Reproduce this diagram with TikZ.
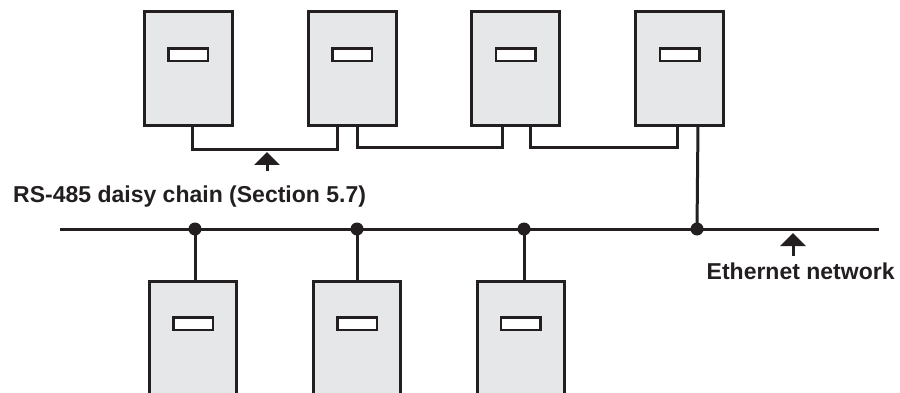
\documentclass[tikz,border=0pt]{standalone}
\usepackage{fontspec}
\setmainfont{Liberation Sans}
\usetikzlibrary{arrows.meta,calc}
\definecolor{ink}{HTML}{231F20}
\definecolor{boxfill}{HTML}{E6E7E8}
\begin{document}
\begin{tikzpicture}[x=1pt,y=-1pt,
  unit/.style={draw=ink,fill=boxfill,line width=3pt,minimum width=88pt,minimum height=114pt,inner sep=0pt,outer sep=0pt},
  slot/.style={draw=ink,fill=white,line width=2.5pt,minimum width=39.5pt,minimum height=12.5pt,inner sep=0pt,outer sep=0pt},
  wire/.style={draw=ink,line width=3pt},
  dot/.style={circle,fill=ink,minimum size=13pt,inner sep=0pt,outer sep=0pt},
  pointer/.style={draw=ink,line width=3pt,-{Triangle[width=25pt,length=13pt]}},
  lbl/.style={font=\bfseries\fontsize{23}{26}\selectfont,text=ink,inner sep=0pt,anchor=base west}]
\useasboundingbox (0,0) rectangle (900,393);
\clip (0,0) rectangle (900,393);
% top units
\node[unit] (b1) at (188,68.5) {};
\node[unit] (b2) at (352,68.5) {};
\node[unit] (b3) at (515.5,68.5) {};
\node[unit] (b4) at (679.5,68.5) {};
\foreach \i in {1,...,4} { \node[slot] (s\i) at ($(b\i.north)+(0,43.5)$) {}; }
% bottom units
\node[unit,minimum width=87pt] (c1) at (193,338.5) {};
\node[unit,minimum width=87pt] (c2) at (357,338.5) {};
\node[unit,minimum width=87pt] (c3) at (520.5,338.5) {};
\foreach \i in {1,...,3} { \node[slot] (t\i) at ($(c\i.north)+(0,42)$) {}; }
% daisy chain ports
\coordinate (p1) at (192,125.5);
\coordinate (p2a) at (337,125.5);
\coordinate (p2b) at (357,125.5);
\coordinate (p3a) at (502,125.5);
\coordinate (p3b) at (530,125.5);
\coordinate (p4a) at (677,125.5);
\coordinate (p4b) at (698,125.5);
\draw[wire] (p1) |- (264,150) -| (p2a);
\draw[wire] (p2b) |- (430,148) -| (p3a);
\draw[wire] (p3b) |- (600,148) -| (p4a);
% ethernet bus
\coordinate (eL) at (60,229);
\coordinate (eR) at (879,229);
\draw[wire] (eL) -- (eR);
\node[dot] (j1) at (195,229) {};
\node[dot] (j2) at (357,229) {};
\node[dot] (j3) at (524,229) {};
\node[dot] (j4) at (697,229) {};
\draw[wire] (p4b) -- (j4.center);
\draw[wire] (j1.center) -- (j1.center |- c1.north);
\draw[wire] (j2.center) -- (j2.center |- c2.north);
\draw[wire] (j3.center) -- (j3.center |- c3.north);
% labels
\coordinate (a1b) at (267,171);
\coordinate (a1t) at (267,152);
\draw[pointer] (a1b) -- (a1t);
\node[lbl] (rs) at (13,202.3) {RS-485 daisy chain (Section 5.7)};
\coordinate (a2b) at (793,256);
\coordinate (a2t) at (793,233);
\draw[pointer] (a2b) -- (a2t);
\node[lbl] (eth) at (706.5,279.3) {Ethernet network};
\end{tikzpicture}
\end{document}
